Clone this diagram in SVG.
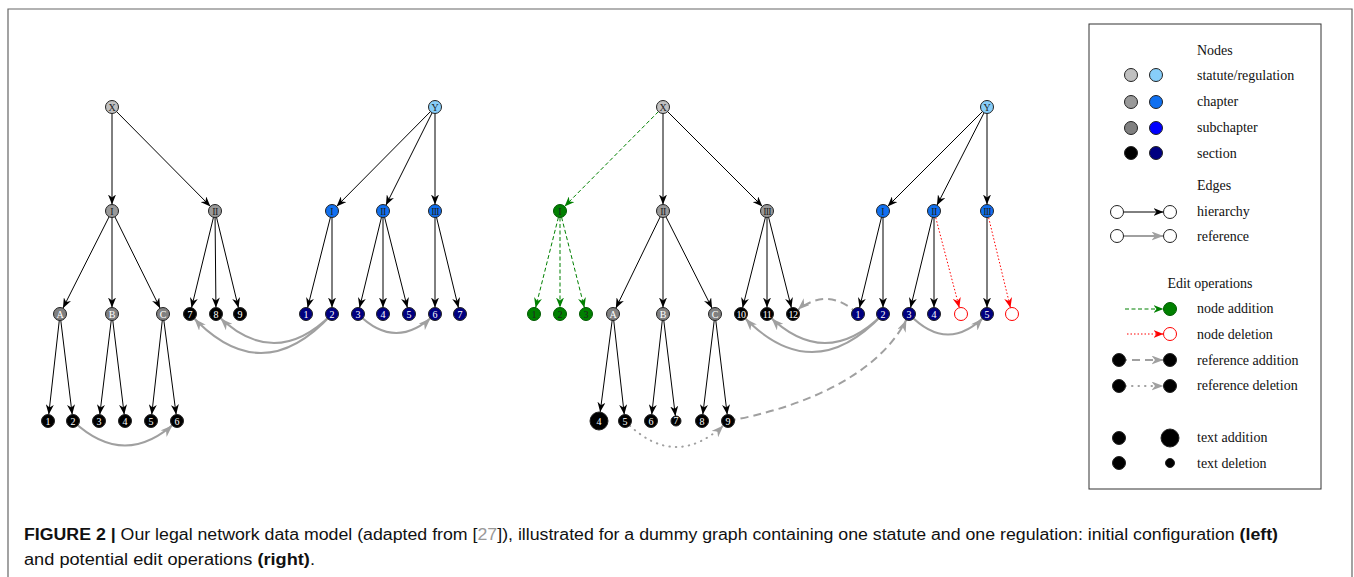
<svg xmlns="http://www.w3.org/2000/svg" width="1354" height="577" viewBox="0 0 1354 577">
<style>
.h{stroke:#000;stroke-width:1;fill:none;marker-end:url(#ah)}
.h9{marker-end:url(#ah9)}
.h5{marker-end:url(#ah5)}
.ga{stroke:#008000;stroke-width:1;fill:none;stroke-dasharray:4 2.5;marker-end:url(#agr)}
.rd{stroke:#ff0000;stroke-width:1;fill:none;stroke-dasharray:1.5 2;marker-end:url(#ard)}
.r{stroke:#a0a0a0;stroke-width:2;fill:none;marker-end:url(#agy)}
.rda{stroke-dasharray:8 5}
.rdo{stroke-dasharray:0.5 6;stroke-linecap:round}
circle{stroke:#222;stroke-width:1}
.st{fill:#c0c0c0}.rg{fill:#87cefa}.chg{fill:#999}.chb{fill:#1070f0}.sbg{fill:#808080}.sbb{fill:#0000ff}
.sc{fill:#000}.sn{fill:#000080}.gn{fill:#008000;stroke:#005a00}.del{fill:#fff;stroke:#ff0000}.wh{fill:#fff}
.lb{font-family:"Liberation Serif","Times New Roman",serif;font-size:10px;text-anchor:middle}
.lw{fill:#fff}.ld{fill:#222}
.lg{font-family:"Liberation Serif","Times New Roman",serif;font-size:14px;fill:#111}
.cap{font-family:"Liberation Sans",Arial,sans-serif;font-size:16px;fill:#111}
</style>
<defs>
<marker id="ah" markerUnits="userSpaceOnUse" markerWidth="10" markerHeight="8" refX="16.5" refY="4" orient="auto"><path d="M0,0 L10,4 L0,8 L3,4 z" fill="#000"/></marker>
<marker id="ah9" markerUnits="userSpaceOnUse" markerWidth="10" markerHeight="8" refX="19" refY="4" orient="auto"><path d="M0,0 L10,4 L0,8 L3,4 z" fill="#000"/></marker>
<marker id="ah5" markerUnits="userSpaceOnUse" markerWidth="10" markerHeight="8" refX="15" refY="4" orient="auto"><path d="M0,0 L10,4 L0,8 L3,4 z" fill="#000"/></marker>
<marker id="agr" markerUnits="userSpaceOnUse" markerWidth="10" markerHeight="8" refX="16.5" refY="4" orient="auto"><path d="M0,0 L10,4 L0,8 L3,4 z" fill="#008000"/></marker>
<marker id="ard" markerUnits="userSpaceOnUse" markerWidth="10" markerHeight="8" refX="16.5" refY="4" orient="auto"><path d="M0,0 L10,4 L0,8 L3,4 z" fill="#ff0000"/></marker>
<marker id="agy" markerUnits="userSpaceOnUse" markerWidth="12" markerHeight="9" refX="18.5" refY="4.5" orient="auto"><path d="M0,0 L12,4.5 L0,9 L3.5,4.5 z" fill="#a0a0a0"/></marker>
</defs>
<rect width="1354" height="577" fill="#fff"/>
<path d="M8,577 V9 H1352 V577" fill="none" stroke="#666" stroke-width="1.2"/>

<g id="connectors">
<!-- left statute -->
<line class="h" x1="112" y1="107" x2="112" y2="211"/>
<line class="h" x1="112" y1="107" x2="215" y2="211"/>
<line class="h" x1="112" y1="211" x2="60" y2="314"/>
<line class="h" x1="112" y1="211" x2="112" y2="314"/>
<line class="h" x1="112" y1="211" x2="163" y2="314"/>
<line class="h" x1="215" y1="211" x2="190" y2="314"/>
<line class="h" x1="215" y1="211" x2="216" y2="314"/>
<line class="h" x1="215" y1="211" x2="240" y2="314"/>
<line class="h" x1="60" y1="314" x2="48" y2="421"/>
<line class="h" x1="60" y1="314" x2="73" y2="421"/>
<line class="h" x1="112" y1="314" x2="99" y2="421"/>
<line class="h" x1="112" y1="314" x2="125" y2="421"/>
<line class="h" x1="163" y1="314" x2="151" y2="421"/>
<line class="h" x1="163" y1="314" x2="177" y2="421"/>
<!-- left regulation -->
<line class="h" x1="435" y1="107" x2="332" y2="211"/>
<line class="h" x1="435" y1="107" x2="383" y2="211"/>
<line class="h" x1="435" y1="107" x2="435" y2="211"/>
<line class="h" x1="332" y1="211" x2="306" y2="314"/>
<line class="h" x1="332" y1="211" x2="332" y2="314"/>
<line class="h" x1="383" y1="211" x2="358" y2="314"/>
<line class="h" x1="383" y1="211" x2="383" y2="314"/>
<line class="h" x1="383" y1="211" x2="409" y2="314"/>
<line class="h" x1="435" y1="211" x2="435" y2="314"/>
<line class="h" x1="435" y1="211" x2="460" y2="314"/>
<!-- left references -->
<path class="r" d="M73,421 Q125,470 177,421"/>
<path class="r" d="M332,314 Q261,392 190,314"/>
<path class="r" d="M332,314 Q274,372 216,314"/>
<path class="r" d="M358,314 Q396,352 435,314"/>
<!-- right statute -->
<line class="ga" x1="663" y1="107" x2="560" y2="211"/>
<line class="h" x1="663" y1="107" x2="663" y2="211"/>
<line class="h" x1="663" y1="107" x2="767" y2="211"/>
<line class="ga" x1="560" y1="211" x2="534" y2="314"/>
<line class="ga" x1="560" y1="211" x2="560" y2="314"/>
<line class="ga" x1="560" y1="211" x2="586" y2="314"/>
<line class="h" x1="663" y1="211" x2="613" y2="314"/>
<line class="h" x1="663" y1="211" x2="663" y2="314"/>
<line class="h" x1="663" y1="211" x2="715" y2="314"/>
<line class="h" x1="767" y1="211" x2="741" y2="314"/>
<line class="h" x1="767" y1="211" x2="767" y2="314"/>
<line class="h" x1="767" y1="211" x2="793" y2="314"/>
<line class="h h9" x1="613" y1="314" x2="599" y2="421"/>
<line class="h" x1="613" y1="314" x2="625" y2="421"/>
<line class="h" x1="663" y1="314" x2="651" y2="421"/>
<line class="h h5" x1="663" y1="314" x2="676" y2="421"/>
<line class="h" x1="715" y1="314" x2="702" y2="421"/>
<line class="h" x1="715" y1="314" x2="728" y2="421"/>
<!-- right regulation -->
<line class="h" x1="987" y1="107" x2="883" y2="211"/>
<line class="h" x1="987" y1="107" x2="934" y2="211"/>
<line class="h" x1="987" y1="107" x2="987" y2="211"/>
<line class="h" x1="883" y1="211" x2="858" y2="314"/>
<line class="h" x1="883" y1="211" x2="883" y2="314"/>
<line class="h" x1="934" y1="211" x2="909" y2="314"/>
<line class="h" x1="934" y1="211" x2="934" y2="314"/>
<line class="rd" x1="934" y1="211" x2="961" y2="314"/>
<line class="h" x1="987" y1="211" x2="987" y2="314"/>
<line class="rd" x1="987" y1="211" x2="1012" y2="314"/>
<!-- right references -->
<path class="r rda" d="M858,314 Q826,284 793,314"/>
<path class="r" d="M883,314 Q812,390 741,314"/>
<path class="r" d="M883,314 Q825,372 767,314"/>
<path class="r rda" d="M728,421 C790,410 880,380 909,314"/>
<path class="r rdo" d="M625,421 Q676,473 728,421"/>
<path class="r" d="M909,314 Q948,355 987,314"/>
</g>

<g id="left-statute">
<g id="L-X"><circle class="st" cx="112" cy="107" r="6.5"/><text class="lb ld" x="112" y="110.5">X</text></g>
<g id="L-I"><circle class="chg" cx="112" cy="211" r="6.5"/><text class="lb ld" x="112" y="214.5">I</text></g>
<g id="L-II"><circle class="chg" cx="215" cy="211" r="6.5"/><text class="lb ld" x="215" y="214.5" letter-spacing="-0.5">II</text></g>
<g id="L-A"><circle class="sbg" cx="60" cy="314" r="6.5"/><text class="lb lw" x="60" y="317.5">A</text></g>
<g id="L-B"><circle class="sbg" cx="112" cy="314" r="6.5"/><text class="lb lw" x="112" y="317.5">B</text></g>
<g id="L-C"><circle class="sbg" cx="163" cy="314" r="6.5"/><text class="lb lw" x="163" y="317.5">C</text></g>
<g id="L-7"><circle class="sc" cx="190" cy="314" r="6.5"/><text class="lb lw" x="190" y="317.5">7</text></g>
<g id="L-8"><circle class="sc" cx="216" cy="314" r="6.5"/><text class="lb lw" x="216" y="317.5">8</text></g>
<g id="L-9"><circle class="sc" cx="240" cy="314" r="6.5"/><text class="lb lw" x="240" y="317.5">9</text></g>
<g id="L-1"><circle class="sc" cx="48" cy="421" r="6.5"/><text class="lb lw" x="48" y="424.5">1</text></g>
<g id="L-2"><circle class="sc" cx="73" cy="421" r="6.5"/><text class="lb lw" x="73" y="424.5">2</text></g>
<g id="L-3"><circle class="sc" cx="99" cy="421" r="6.5"/><text class="lb lw" x="99" y="424.5">3</text></g>
<g id="L-4"><circle class="sc" cx="125" cy="421" r="6.5"/><text class="lb lw" x="125" y="424.5">4</text></g>
<g id="L-5"><circle class="sc" cx="151" cy="421" r="6.5"/><text class="lb lw" x="151" y="424.5">5</text></g>
<g id="L-6"><circle class="sc" cx="177" cy="421" r="6.5"/><text class="lb lw" x="177" y="424.5">6</text></g>
</g>

<g id="left-regulation">
<g id="LR-Y"><circle class="rg" cx="435" cy="107" r="6.5"/><text class="lb ld" x="435" y="110.5">Y</text></g>
<g id="LR-I"><circle class="chb" cx="332" cy="211" r="6.5"/><text class="lb ld" x="332" y="214.5">I</text></g>
<g id="LR-II"><circle class="chb" cx="383" cy="211" r="6.5"/><text class="lb ld" x="383" y="214.5" letter-spacing="-0.5">II</text></g>
<g id="LR-III"><circle class="chb" cx="435" cy="211" r="6.5"/><text class="lb ld" x="435" y="214.5" letter-spacing="-0.8">III</text></g>
<g id="LR-1"><circle class="sn" cx="306" cy="314" r="6.5"/><text class="lb lw" x="306" y="317.5">1</text></g>
<g id="LR-2"><circle class="sn" cx="332" cy="314" r="6.5"/><text class="lb lw" x="332" y="317.5">2</text></g>
<g id="LR-3"><circle class="sn" cx="358" cy="314" r="6.5"/><text class="lb lw" x="358" y="317.5">3</text></g>
<g id="LR-4"><circle class="sn" cx="383" cy="314" r="6.5"/><text class="lb lw" x="383" y="317.5">4</text></g>
<g id="LR-5"><circle class="sn" cx="409" cy="314" r="6.5"/><text class="lb lw" x="409" y="317.5">5</text></g>
<g id="LR-6"><circle class="sn" cx="435" cy="314" r="6.5"/><text class="lb lw" x="435" y="317.5">6</text></g>
<g id="LR-7"><circle class="sn" cx="460" cy="314" r="6.5"/><text class="lb lw" x="460" y="317.5">7</text></g>
</g>

<g id="right-statute">
<g id="R-X"><circle class="st" cx="663" cy="107" r="6.5"/><text class="lb ld" x="663" y="110.5">X</text></g>
<g id="R-gI"><circle class="gn" cx="560" cy="211" r="6.5"/><text class="lb ld" x="560" y="214.5">I</text></g>
<g id="R-II"><circle class="chg" cx="663" cy="211" r="6.5"/><text class="lb ld" x="663" y="214.5" letter-spacing="-0.5">II</text></g>
<g id="R-III"><circle class="chg" cx="767" cy="211" r="6.5"/><text class="lb ld" x="767" y="214.5" letter-spacing="-0.8">III</text></g>
<g id="R-g1"><circle class="gn" cx="534" cy="314" r="6.5"/><text class="lb ld" x="534" y="317.5">1</text></g>
<g id="R-g2"><circle class="gn" cx="560" cy="314" r="6.5"/><text class="lb ld" x="560" y="317.5">2</text></g>
<g id="R-g3"><circle class="gn" cx="586" cy="314" r="6.5"/><text class="lb ld" x="586" y="317.5">3</text></g>
<g id="R-A"><circle class="sbg" cx="613" cy="314" r="6.5"/><text class="lb lw" x="613" y="317.5">A</text></g>
<g id="R-B"><circle class="sbg" cx="663" cy="314" r="6.5"/><text class="lb lw" x="663" y="317.5">B</text></g>
<g id="R-C"><circle class="sbg" cx="715" cy="314" r="6.5"/><text class="lb lw" x="715" y="317.5">C</text></g>
<g id="R-10"><circle class="sc" cx="741" cy="314" r="6.5"/><text class="lb lw" x="741" y="317.5" letter-spacing="-0.6">10</text></g>
<g id="R-11"><circle class="sc" cx="767" cy="314" r="6.5"/><text class="lb lw" x="767" y="317.5" letter-spacing="-0.6">11</text></g>
<g id="R-12"><circle class="sc" cx="793" cy="314" r="6.5"/><text class="lb lw" x="793" y="317.5" letter-spacing="-0.6">12</text></g>
<g id="R-4"><circle class="sc" cx="599" cy="421" r="9"/><text class="lb lw" x="599" y="424.5">4</text></g>
<g id="R-5"><circle class="sc" cx="625" cy="421" r="6.5"/><text class="lb lw" x="625" y="424.5">5</text></g>
<g id="R-6"><circle class="sc" cx="651" cy="421" r="6.5"/><text class="lb lw" x="651" y="424.5">6</text></g>
<g id="R-7"><circle class="sc" cx="676" cy="421" r="5"/><text class="lb lw" x="676" y="424" font-size="8.5">7</text></g>
<g id="R-8"><circle class="sc" cx="702" cy="421" r="6.5"/><text class="lb lw" x="702" y="424.5">8</text></g>
<g id="R-9"><circle class="sc" cx="728" cy="421" r="6.5"/><text class="lb lw" x="728" y="424.5">9</text></g>
</g>

<g id="right-regulation">
<g id="RR-Y"><circle class="rg" cx="987" cy="107" r="6.5"/><text class="lb ld" x="987" y="110.5">Y</text></g>
<g id="RR-I"><circle class="chb" cx="883" cy="211" r="6.5"/><text class="lb ld" x="883" y="214.5">I</text></g>
<g id="RR-II"><circle class="chb" cx="934" cy="211" r="6.5"/><text class="lb ld" x="934" y="214.5" letter-spacing="-0.5">II</text></g>
<g id="RR-III"><circle class="chb" cx="987" cy="211" r="6.5"/><text class="lb ld" x="987" y="214.5" letter-spacing="-0.8">III</text></g>
<g id="RR-1"><circle class="sn" cx="858" cy="314" r="6.5"/><text class="lb lw" x="858" y="317.5">1</text></g>
<g id="RR-2"><circle class="sn" cx="883" cy="314" r="6.5"/><text class="lb lw" x="883" y="317.5">2</text></g>
<g id="RR-3"><circle class="sn" cx="909" cy="314" r="6.5"/><text class="lb lw" x="909" y="317.5">3</text></g>
<g id="RR-4"><circle class="sn" cx="934" cy="314" r="6.5"/><text class="lb lw" x="934" y="317.5">4</text></g>
<g id="RR-del1"><circle class="del" cx="961" cy="314" r="6.5"/></g>
<g id="RR-5"><circle class="sn" cx="987" cy="314" r="6.5"/><text class="lb lw" x="987" y="317.5">5</text></g>
<g id="RR-del2"><circle class="del" cx="1012" cy="314" r="6.5"/></g>
</g>

<g id="legend">
<rect x="1089" y="24" width="232" height="465" fill="#fff" stroke="#333" stroke-width="1"/>
<text class="lg" x="1197" y="55">Nodes</text>
<circle class="st" cx="1131" cy="75" r="6.5"/><circle class="rg" cx="1156" cy="75" r="6.5"/>
<text class="lg" x="1197" y="80">statute/regulation</text>
<circle class="chg" cx="1131" cy="102" r="6.5"/><circle class="chb" cx="1156" cy="102" r="6.5"/>
<text class="lg" x="1197" y="106">chapter</text>
<circle class="sbg" cx="1131" cy="128" r="6.5"/><circle class="sbb" cx="1156" cy="128" r="6.5"/>
<text class="lg" x="1197" y="132">subchapter</text>
<circle class="sc" cx="1131" cy="153" r="6.5"/><circle class="sn" cx="1156" cy="153" r="6.5"/>
<text class="lg" x="1197" y="158">section</text>
<text class="lg" x="1197" y="190">Edges</text>
<line class="h" x1="1117" y1="212" x2="1170" y2="212"/>
<circle class="wh" cx="1117" cy="212" r="6.5"/><circle class="wh" cx="1170" cy="212" r="6.5"/>
<text class="lg" x="1197" y="216">hierarchy</text>
<path class="r" d="M1117,236 H1170"/>
<circle class="wh" cx="1117" cy="236" r="6.5"/><circle class="wh" cx="1170" cy="236" r="6.5"/>
<text class="lg" x="1197" y="241">reference</text>
<text class="lg" x="1210" y="288" text-anchor="middle">Edit operations</text>
<line class="ga" x1="1125" y1="309" x2="1170" y2="309"/>
<circle class="gn" cx="1170" cy="309" r="6.5"/>
<text class="lg" x="1197" y="313">node addition</text>
<line class="rd" x1="1127" y1="334" x2="1170" y2="334"/>
<circle class="del" cx="1170" cy="334" r="6.5"/>
<text class="lg" x="1197" y="339">node deletion</text>
<path class="r rda" d="M1119,360 H1170"/>
<circle class="sc" cx="1119" cy="360" r="6.5"/><circle class="sc" cx="1170" cy="360" r="6.5"/>
<text class="lg" x="1197" y="365">reference addition</text>
<path class="r rdo" d="M1119,386 H1170"/>
<circle class="sc" cx="1119" cy="386" r="6.5"/><circle class="sc" cx="1170" cy="386" r="6.5"/>
<text class="lg" x="1197" y="390">reference deletion</text>
<circle class="sc" cx="1119" cy="438" r="6.5"/><circle class="sc" cx="1170" cy="438" r="9"/>
<text class="lg" x="1197" y="442">text addition</text>
<circle class="sc" cx="1119" cy="463" r="6.5"/><circle class="sc" cx="1170" cy="463" r="4.5"/>
<text class="lg" x="1197" y="468">text deletion</text>
</g>

<g id="caption">
<text class="cap" x="24" y="540" textLength="1254" lengthAdjust="spacingAndGlyphs"><tspan font-weight="bold">FIGURE 2 |</tspan> Our legal network data model (adapted from [<tspan fill="#999">27</tspan>]), illustrated for a dummy graph containing one statute and one regulation: initial configuration <tspan font-weight="bold">(left)</tspan></text>
<text class="cap" x="24" y="565" textLength="291" lengthAdjust="spacingAndGlyphs">and potential edit operations <tspan font-weight="bold">(right)</tspan>.</text>
</g>
</svg>
